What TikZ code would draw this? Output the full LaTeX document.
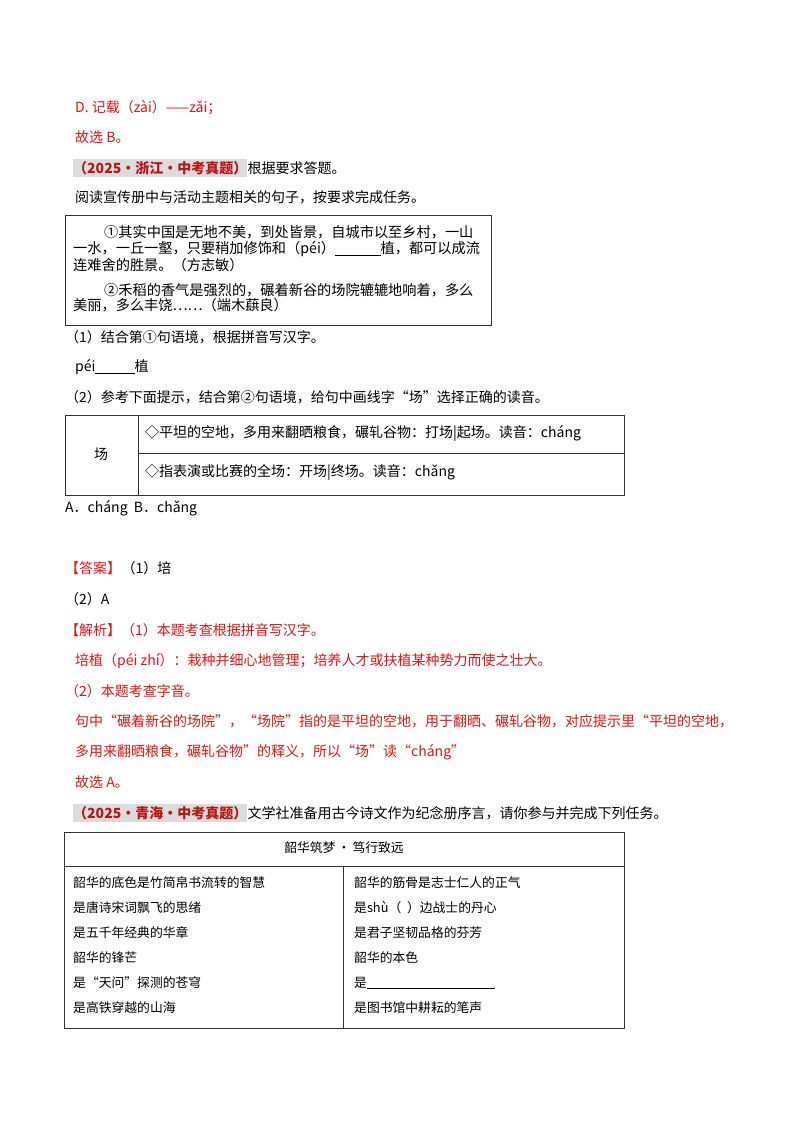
\documentclass[tikz,border=0pt]{standalone}
\usepackage{fontspec}
\setmainfont{Noto Sans CJK SC}
\usepackage{xcolor}
\usetikzlibrary{positioning}
\definecolor{ansred}{RGB}{230,20,20}
\definecolor{tagred}{RGB}{190,20,20}
\definecolor{tagbg}{RGB}{220,220,220}
\begin{document}
\begin{tikzpicture}[
      x=1pt, y=-1pt,
      every node/.style={inner sep=0pt, anchor=west, font=\fontsize{14}{16}\selectfont},
      txt/.style={text=black},
      redtxt/.style={text=ansred},
      boxtxt/.style={font=\fontsize{14.2}{16}\selectfont},
      tabtxt/.style={font=\fontsize{12.8}{15}\selectfont},
      tag/.style={fill=tagbg, text=tagred, font=\fontsize{14}{16}\selectfont\bfseries, inner ysep=2pt},
      frame/.style={draw=black!80, line width=1pt}
    ]
    \useasboundingbox[fill=white] (0,0) rectangle (800,1132);

    % previous answer tail
    \node[redtxt] (d) at (75,108) {D. 记载（zài）——zǎi；};
    \node[redtxt] (b) at (75,137) {故选 B。};

    % question 1
    \node[tag] (tag1) at (73,168) {（2025·浙江·中考真题）};
    \node[txt, right=0pt of tag1] (q1) {根据要求答题。};
    \node[txt] (read) at (75,197) {阅读宣传册中与活动主题相关的句子，按要求完成任务。};
    \draw[frame] (65,215) rectangle (491,325);
    \node[boxtxt] (s1a) at (104,232) {①其实中国是无地不美，到处皆景，自城市以至乡村，一山};
    \node[boxtxt] (s1b) at (73,249) {一水，一丘一壑，只要稍加修饰和（péi）\underline{\hspace{3.2em}}植，都可以成流};
    \node[boxtxt] (s1c) at (73,265) {连难舍的胜景。（方志敏）};
    \node[boxtxt] (s2a) at (104,290) {②禾稻的香气是强烈的，碾着新谷的场院辘辘地响着，多么};
    \node[boxtxt] (s2b) at (73,305) {美丽，多么丰饶……（端木蕻良）};
    \node[txt] (t1) at (65,337) {（1）结合第①句语境，根据拼音写汉字。};
    \node[txt] (t1a) at (75,367) {péi\underline{\hspace{2.8em}}植};
    \node[txt] (t2) at (65,397) {（2）参考下面提示，结合第②句语境，给句中画线字“场”选择正确的读音。};

    % hint table
    \draw[frame] (65,415) rectangle (624,495);
    \draw[frame] (138,415) -- (138,495);
    \draw[frame] (138,453) -- (624,453);
    \node[anchor=center] (chang) at (101,454) {场};
    \node[txt] (h1) at (145,433) {◇平坦的空地，多用来翻晒粮食，碾轧谷物：打场|起场。读音：cháng};
    \node[txt] (h2) at (145,472) {◇指表演或比赛的全场：开场|终场。读音：chǎng};
    \node[txt] (opt) at (65,508) {A．cháng\ \ B．chǎng};

    % answer and analysis
    \node[redtxt] (ans) at (65,568) {【答案】};
    \node[txt, right=0pt of ans] (ans1) {（1）培};
    \node[txt] (ans2) at (65,599) {（2）A};
    \node[redtxt] (ana) at (65,630) {【解析】（1）本题考查根据拼音写汉字。};
    \node[redtxt] (ana1) at (75,661) {培植（péi zhí）：栽种并细心地管理；培养人才或扶植某种势力而使之壮大。};
    \node[redtxt] (ana2) at (65,691) {（2）本题考查字音。};
    \node[redtxt] (ana3) at (75,721) {句中“碾着新谷的场院”，“场院”指的是平坦的空地，用于翻晒、碾轧谷物，对应提示里“平坦的空地，};
    \node[redtxt] (ana4) at (75,752) {多用来翻晒粮食，碾轧谷物”的释义，所以“场”读“cháng”};
    \node[redtxt] (ana5) at (75,782) {故选 A。};

    % question 2
    \node[tag] (tag2) at (73,813) {（2025·青海·中考真题）};
    \node[txt, right=0pt of tag2] (q2) {文学社准备用古今诗文作为纪念册序言，请你参与并完成下列任务。};
    \draw[frame] (64,832) rectangle (624,1028);
    \draw[frame] (64,866) -- (624,866);
    \draw[frame] (343,866) -- (343,1028);
    \node[anchor=center, tabtxt] (title) at (344,848) {韶华筑梦\,•\,笃行致远};
    \foreach \t [count=\i] in {韶华的底色是竹简帛书流转的智慧, 是唐诗宋词飘飞的思绪, 是五千年经典的华章, 韶华的锋芒, 是“天问”探测的苍穹, 是高铁穿越的山海}
      \node[tabtxt] (l\i) at (73,{883+25*(\i-1)}) {\t};
    \foreach \t [count=\i] in {韶华的筋骨是志士仁人的正气, 是shù（\ \ ）边战士的丹心, 是君子坚韧品格的芬芳, 韶华的本色, 是\underline{\hspace{10em}}, 是图书馆中耕耘的笔声}
      \node[tabtxt] (r\i) at (354,{883+25*(\i-1)}) {\t};
\end{tikzpicture}
\end{document}
